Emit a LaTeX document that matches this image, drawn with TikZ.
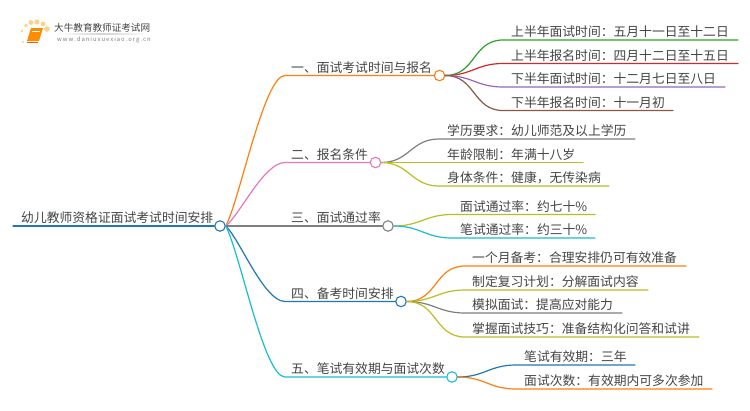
\documentclass[tikz,border=0pt]{standalone}
\usepackage{fontspec}
\setmainfont{Noto Sans CJK SC}
\definecolor{tOrange}{HTML}{FF7F0E}
\definecolor{tPink}{HTML}{E377C2}
\definecolor{tGray}{HTML}{7F7F7F}
\definecolor{tBlue}{HTML}{1F77B4}
\definecolor{tCyan}{HTML}{17BECF}
\definecolor{tOlive}{HTML}{BCBD22}
\definecolor{tGreen}{HTML}{2CA02C}
\definecolor{tRed}{HTML}{D62728}
\definecolor{tPurple}{HTML}{9467BD}
\definecolor{tBrown}{HTML}{8C564B}
\definecolor{inkc}{HTML}{444444}
\definecolor{dotc}{HTML}{FBD38A}
\tikzset{
  hub/.style={circle,draw=#1,fill=white,line width=1.1pt,minimum size=10.5pt,inner sep=0pt},
  label text/.style={anchor=base west,inner sep=0pt,text=inkc,font=\fontsize{12.8pt}{14pt}\selectfont},
  edge line/.style={line width=1.2pt,line cap=round},
  logo dot/.style={fill=dotc,draw=none,circle,minimum size=0pt,inner sep=#1}
}
% \branch{name}{colour}{hub x}{y}{text x}{text}
\newcommand{\branch}[6]{
  \coordinate (#1s) at (285,#4);
  \node[label text] (#1t) at (#5,#4-3.5) {#6};
  \node[hub=#2] (#1) at (#3,#4) {};
  \draw[edge line,#2] (root.east) .. controls ({240},{226+0.18*(#4-226)}) and (264,#4) .. (#1s) -- (#1.west);
}
% \leafnode{name}{parent}{colour}{curve end x}{y}{line end x}{text x}{text}
\newcommand{\leafnode}[8]{
  \coordinate (#1s) at (#4,#5);
  \coordinate (#1e) at (#6,#5);
  \node[label text] (#1t) at (#7,#5-3.5) {#8};
  \draw[edge line,#3] (#2.east) to[out=0,in=180,looseness=1.15] (#1s) -- (#1e);
}
\begin{document}
\begin{tikzpicture}[x=1pt,y=-1pt]
\useasboundingbox (0,0) rectangle (750,410);
\fill[white] (0,0) rectangle (750,410);
% logo
\node[logo dot=0.8pt] (l1) at (23,42) {};
\node[logo dot=1pt] (l2) at (22,31) {};
\node[logo dot=1.4pt] (l3) at (26,25.5) {};
\node[logo dot=1.7pt] (l4) at (31,22.5) {};
\node[logo dot=1.8pt] (l5) at (37,22) {};
\node[logo dot=1.7pt] (l6) at (43,24) {};
\node[logo dot=2pt] (l7) at (47,29) {};
\fill[orange!90!yellow] (31,28) -- (43,28) -- (39,41) -- (27,41) -- cycle;
\draw[white,line width=.5pt] (32,31) -- (40,31);
\draw[orange!70!red,line width=.8pt] (27,42) -- (38,42);
\node[anchor=base west,inner sep=0pt,text=inkc,font=\fontsize{9.6pt}{11pt}\selectfont] (logot) at (54,31) {大牛教育教师证考试网};
\shade[left color=white,right color=white,middle color=gray!35] (58,33.5) rectangle (148,34.5);
\node[anchor=base west,inner sep=0pt,text=gray,font=\fontsize{5.9pt}{7pt}\selectfont] (logou) at (57,41.5) {w\,w\,w\,.\,d\,a\,n\,i\,u\,x\,u\,e\,x\,i\,a\,o\,.\,o\,r\,g\,.\,c\,n};
% root
\coordinate (roots) at (13,226);
\node[label text] (roott) at (21,222.5) {幼儿教师资格证面试考试时间安排};
\node[hub=tBlue] (root) at (220,226) {};
\draw[edge line,tBlue] (roots) -- (root.west);
% branches
\branch{a}{tOrange}{439.5}{75.5}{291}{一、面试考试时间与报名}
\branch{b}{tPink}{375.5}{162.5}{291}{二、报名条件}
\draw[edge line,tGray] (root.east) -- (382.75,226);
\coordinate (cs) at (285,226);
\node[label text] (ct) at (291,222.5) {三、面试通过率};
\node[hub=tGray] (c) at (388,226) {};
\branch{d}{tBlue}{401}{301.5}{291}{四、备考时间安排}
\branch{e}{tCyan}{452}{377}{291}{五、笔试有效期与面试次数}
% leaves
\leafnode{a1}{a}{tGreen}{503}{40}{738}{511}{上半年面试时间：五月十一日至十二日}
\leafnode{a2}{a}{tRed}{503}{63.5}{738}{511}{上半年报名时间：四月十二日至十五日}
\leafnode{a3}{a}{tPurple}{503}{87}{725}{511}{下半年面试时间：十二月七日至八日}
\leafnode{a4}{a}{tBrown}{503}{110.5}{673}{511}{下半年报名时间：十一月初}
\leafnode{b1}{b}{tGray}{439}{139}{635}{447}{学历要求：幼儿师范及以上学历}
\leafnode{b2}{b}{tOlive}{439}{162.5}{583}{447}{年龄限制：年满十八岁}
\leafnode{b3}{b}{tOlive}{439}{186}{609}{447}{身体条件：健康，无传染病}
\leafnode{c1}{c}{tOlive}{452}{214.5}{595}{460}{面试通过率：约七十\%}
\leafnode{c2}{c}{tCyan}{452}{238}{595}{460}{笔试通过率：约三十\%}
\leafnode{d1}{d}{tOrange}{465}{266}{686}{472}{一个月备考：合理安排仍可有效准备}
\leafnode{d2}{d}{tOlive}{465}{290}{648}{472}{制定复习计划：分解面试内容}
\leafnode{d3}{d}{tGray}{465}{313}{622}{472}{模拟面试：提高应对能力}
\leafnode{d4}{d}{tOlive}{465}{337}{699}{472}{掌握面试技巧：准备结构化问答和试讲}
\leafnode{e1}{e}{tBlue}{516}{365}{635}{524}{笔试有效期：三年}
\leafnode{e2}{e}{tOrange}{516}{389}{712}{524}{面试次数：有效期内可多次参加}
\end{tikzpicture}
\end{document}
